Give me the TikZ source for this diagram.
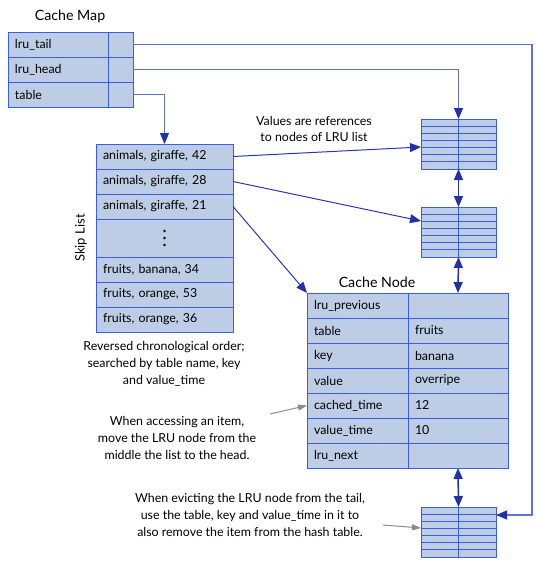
\documentclass[tikz,border=0pt]{standalone}
\usepackage{fontspec}
\setmainfont{Lato}
\usetikzlibrary{arrows.meta, positioning, calc}

\definecolor{cellfill}{RGB}{189,205,230}
\definecolor{cellline}{RGB}{58,92,232}
\definecolor{maplink}{RGB}{96,114,212}
\definecolor{listlink}{RGB}{40,56,178}
\definecolor{tipblue}{RGB}{34,48,170}
\definecolor{notegray}{RGB}{140,140,140}

\begin{document}
\begin{tikzpicture}[
  x=1pt, y=-1pt,
  font=\fontsize{12.4}{16.8}\selectfont,
  cell/.style={
    draw=cellline,
    fill=cellfill,
    line width=1pt,
    minimum height=25pt,
    inner xsep=7pt,
    inner ysep=0pt,
    outer sep=0pt,
    align=left,
    text width=#1,
    anchor=north west
  },
  lrubox/.style={
    draw=cellline,
    fill=cellfill,
    line width=1pt,
    minimum width=75pt,
    minimum height=50pt,
    inner sep=0pt,
    outer sep=0pt,
    path picture={
      \foreach \k in {1,...,6}
        \draw[cellline, line width=0.8pt]
          ($(path picture bounding box.north west)!\k/7!(path picture bounding box.south west)$) --
          ($(path picture bounding box.north east)!\k/7!(path picture bounding box.south east)$);
      \draw[cellline, line width=0.8pt]
        (path picture bounding box.north) -- (path picture bounding box.south);
    }
  },
  title/.style={font=\fontsize{14.2}{16}\selectfont},
  note/.style={align=center},
  maparrow/.style={draw=maplink, line width=1.2pt,
    -{Triangle[length=11pt, width=9pt, color=tipblue]}},
  listarrow/.style={draw=listlink, line width=1pt,
    -{Triangle[length=11pt, width=9pt, color=tipblue]}},
  pairarrow/.style={draw=tipblue, line width=1.5pt,
    {Triangle[length=11pt, width=9pt]}-{Triangle[length=11pt, width=9pt]}},
  notearrow/.style={draw=notegray, line width=1pt,
    -{Triangle[length=9pt, width=6pt]}}
]
\useasboundingbox (0,0) rectangle (536,568);

% Cache map
\node[title] (maptitle) at (70,16) {Cache Map};
\node[cell=86pt] (cmtail) at (8,32) {lru\_tail};
\node[cell=86pt, below=0pt of cmtail] (cmhead) {lru\_head};
\node[cell=86pt, below=0pt of cmhead] (cmtable) {table};
\node[cell=11pt, right=0pt of cmtail] (cmtailv) {};
\node[cell=11pt, right=0pt of cmhead] (cmheadv) {};
\node[cell=11pt, right=0pt of cmtable] (cmtablev) {};

% Skip list
\node[rotate=90, title, font=\fontsize{13}{15}\selectfont] (sllabel) at (81,238) {Skip List};
\node[cell=123pt] (sl1) at (96,144) {animals, giraffe, 42};
\node[cell=123pt, below=0pt of sl1] (sl2) {animals, giraffe, 28};
\node[cell=123pt, below=0pt of sl2] (sl3) {animals, giraffe, 21};
\node[cell=123pt, below=0pt of sl3, minimum height=38pt] (sl4) {};
\node[cell=123pt, below=0pt of sl4] (sl5) {fruits, banana, 34};
\node[cell=123pt, below=0pt of sl5] (sl6) {fruits, orange, 53};
\node[cell=123pt, below=0pt of sl6] (sl7) {fruits, orange, 36};
\foreach \d in {-7,0,7}
  \fill ($(sl4.center)+(0,\d)$) circle (1.3pt);

% LRU list
\node[lrubox] (lru1) at (458.5,144) {};
\node[lrubox] (lru2) at (458.5,232) {};
\node[lrubox] (lru3) at (458.5,532) {};

% Cache node
\node[title] (nodetitle) at (377,282) {Cache Node};
\node[cell=87pt] (cnprev) at (307,293) {lru\_previous};
\node[cell=87pt, below=0pt of cnprev] (cntable) {table};
\node[cell=87pt, below=0pt of cntable] (cnkey) {key};
\node[cell=87pt, below=0pt of cnkey] (cnvalue) {value};
\node[cell=87pt, below=0pt of cnvalue] (cncached) {cached\_time};
\node[cell=87pt, below=0pt of cncached] (cnvtime) {value\_time};
\node[cell=87pt, below=0pt of cnvtime] (cnnext) {lru\_next};
\node[cell=86pt, right=0pt of cnprev] (cnprevv) {};
\node[cell=86pt, right=0pt of cntable] (cntablev) {fruits};
\node[cell=86pt, right=0pt of cnkey] (cnkeyv) {banana};
\node[cell=86pt, right=0pt of cnvalue] (cnvaluev) {overripe};
\node[cell=86pt, right=0pt of cncached] (cncachedv) {12};
\node[cell=86pt, right=0pt of cnvtime] (cnvtimev) {10};
\node[cell=86pt, right=0pt of cnnext] (cnnextv) {};

% Notes
\node[note] (refnote) at (314,129) {Values are references\\to nodes of LRU list};
\node[note] (ordernote) at (164,364) {Reversed chronological order;\\searched by table name, key\\and value\_time};
\node[note] (accessnote) at (177,438) {When accessing an item,\\move the LRU node from the\\middle the list to the head.};
\node[note] (evictnote) at (250,515) {When evicting the LRU node from the tail,\\use the table, key and value\_time in it to\\also remove the item from the hash table.};

\coordinate (tailx) at (532,0);
\coordinate (tailin) at ($(lru3.north east)+(0,8)$);
\coordinate (accessfrom) at (270,414);
\coordinate (evictfrom) at (383,525);

% Arrows
\draw[maparrow] (cmtailv.east) -- (cmtailv.east -| tailx) |- (tailin);
\draw[maparrow] (cmheadv.east) -| (lru1.north);
\draw[maparrow] (cmtablev.east) -| (sl1.north);

\draw[listarrow] (sl1.east) -- ($(lru1.west)+(0,3)$);
\draw[listarrow] (sl2.east) -- ($(lru2.west)+(0,-11)$);
\draw[listarrow] (sl3.east) -- (cnprev.north west);

\draw[pairarrow] (lru1.south) -- (lru2.north);
\draw[pairarrow] (lru2.south) -- (cnprevv.north);
\draw[pairarrow] (cnnextv.south) -- (lru3.north);

\draw[notearrow] (accessfrom) -- (cncached.west);
\draw[notearrow] (evictfrom) -- ($(lru3.west)+(0,-4)$);

\end{tikzpicture}
\end{document}
